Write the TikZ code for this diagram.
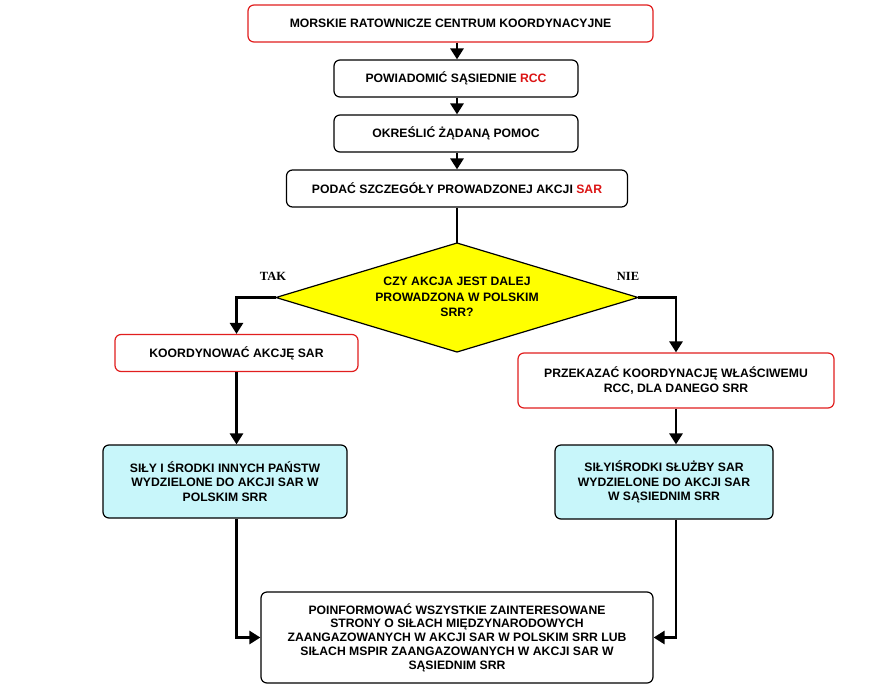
\documentclass[tikz,border=0pt]{standalone}
\usepackage{fontspec}
\setmainfont{Liberation Sans}
\newfontfamily\serifb{Liberation Serif}
\usetikzlibrary{arrows.meta}
\definecolor{boxred}{RGB}{225,30,30}
\definecolor{txtred}{RGB}{220,20,20}
\definecolor{cyanfill}{RGB}{200,246,250}
\definecolor{diayellow}{RGB}{255,255,0}
\begin{document}
\begin{tikzpicture}[x=1pt,y=-1pt,
  box/.style={rounded corners=6pt, line width=1.2pt, align=center, inner sep=0pt,
    font=\bfseries\fontsize{12.2}{14.5}\selectfont},
  redbox/.style={box, draw=boxred},
  blackbox/.style={box, draw=black},
  cyanbox/.style={box, draw=black, fill=cyanfill},
  conn/.style={line width=2.8pt, -{Triangle[length=11pt,width=13pt]}},
  plainconn/.style={line width=2.8pt},
  lbl/.style={font=\serifb\bfseries\fontsize{12.5}{14}\selectfont}]
\fill[white] (0,0) rectangle (885,696);
\useasboundingbox (0,0) rectangle (885,696);

\node[redbox, minimum width=405pt, minimum height=37pt] (b1) at (450.5,23.5) {MORSKIE RATOWNICZE CENTRUM KOORDYNACYJNE};
\node[blackbox, minimum width=244pt, minimum height=37pt] (b2) at (456,78.5) {POWIADOMIĆ SĄSIEDNIE \textcolor{txtred}{RCC}};
\node[blackbox, minimum width=244pt, minimum height=37pt] (b3) at (456,133.5) {OKREŚLIĆ ŻĄDANĄ POMOC};
\node[blackbox, minimum width=341pt, minimum height=37pt] (b4) at (457,188.5) {PODAĆ SZCZEGÓŁY PROWADZONEJ AKCJI \textcolor{txtred}{SAR}};

% decision diamond
\coordinate (dT) at (457,243);
\coordinate (dL) at (276,297.5);
\coordinate (dR) at (638,297.5);
\coordinate (dB) at (457,352);
\filldraw[fill=diayellow, draw=black, line width=1.2pt] (dT) -- (dR) -- (dB) -- (dL) -- cycle;
\node[align=center, font=\bfseries\fontsize{12.2}{15.5}\selectfont] (q) at (457,297) {CZY AKCJA JEST DALEJ\\PROWADZONA W POLSKIM\\SRR?};

\node[lbl] (tak) at (273,276) {TAK};
\node[lbl] (nie) at (628,276) {NIE};

\node[redbox, minimum width=243pt, minimum height=37pt] (k) at (236.5,353) {KOORDYNOWAĆ AKCJĘ SAR};
\node[redbox, minimum width=316pt, minimum height=55pt] (p) at (676,380.5) {PRZEKAZAĆ KOORDYNACJĘ WŁAŚCIWEMU\\RCC, DLA DANEGO SRR};

\node[cyanbox, minimum width=244pt, minimum height=73pt] (c1) at (225,481.5) {SIŁY I ŚRODKI INNYCH PAŃSTW\\WYDZIELONE DO AKCJI SAR W\\POLSKIM SRR};
\node[cyanbox, minimum width=218pt, minimum height=74pt] (c2) at (664,482) {SIŁYIŚRODKI SŁUŻBY SAR\\WYDZIELONE DO AKCJI SAR\\W SĄSIEDNIM SRR};

\node[blackbox, minimum width=392pt, minimum height=91pt, font=\bfseries\fontsize{12.2}{13.7}\selectfont] (f) at (457,637.5) {POINFORMOWAĆ WSZYSTKIE ZAINTERESOWANE\\STRONY O SIŁACH MIĘDZYNARODOWYCH\\ZAANGAZOWANYCH W AKCJI SAR W POLSKIM SRR LUB\\SIŁACH MSPIR ZAANGAZOWANYCH W AKCJI SAR W\\SĄSIEDNIM SRR};

% connectors
\draw[conn] (b1.south -| dT) -- (b2.north -| dT);
\draw[conn] (b2.south -| dT) -- (b3.north -| dT);
\draw[conn] (b3.south -| dT) -- (b4.north -| dT);
\draw[plainconn] (b4.south -| dT) -- (dT);
\draw[conn] (dL) -| (k.north);
\draw[conn] (dR) -| (p.north);
\draw[conn] (k.south) -- (k.south |- c1.north);
\draw[conn] (p.south) -- (p.south |- c2.north);
\draw[conn] (c1.south -| k.south) |- (f.west);
\draw[conn] (c2.south -| p.south) |- (f.east);
\end{tikzpicture}
\end{document}
